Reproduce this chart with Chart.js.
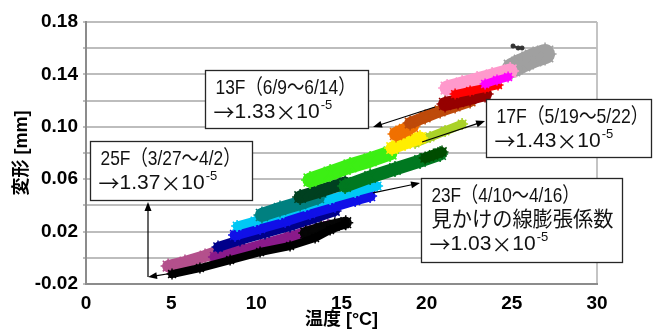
<!DOCTYPE html>
<html>
<head>
<meta charset="utf-8">
<script src="https://cdn.jsdelivr.net/npm/chart.js@4.4.1/dist/chart.umd.min.js"></script>
<style>
  body { margin: 0; background: #fff; }
  #wrap { width: 653px; height: 333px; }
</style>
</head>
<body>
<div id="wrap"><canvas id="deformChart" width="653" height="333"></canvas></div>
<script>
// [temperature °C, deformation mm] for each measured band
const blackTop      = [[25.07,0.1617],[25.37,0.1602],[25.60,0.1602]];
const blackBand     = [[5.05,-0.0124],[6.69,-0.0078],[8.46,-0.0017],[10.22,0.0044],[11.98,0.0090],[13.45,0.0151],[14.33,0.0212],[15.21,0.0258]];
const blackEnd      = [[12.90,0.0190],[13.80,0.0225],[14.60,0.0250],[15.25,0.0268]];
const mauveBand     = [[4.82,-0.0063],[5.81,-0.0032],[6.99,0.0014],[8.16,0.0067],[9.04,0.0090]];
const purpleBand    = [[7.57,0.0006],[9.04,0.0052],[10.51,0.0105],[11.98,0.0159],[13.15,0.0205],[14.21,0.0243]];
const navyBand      = [[7.75,0.0082],[9.04,0.0136],[10.51,0.0189],[11.98,0.0243],[13.45,0.0304],[14.62,0.0357]];
const blueBand      = [[8.75,0.0174],[10.22,0.0227],[11.69,0.0281],[13.15,0.0342],[14.62,0.0395],[15.80,0.0441],[16.68,0.0472]];
const cyanBand      = [[8.87,0.0243],[9.92,0.0281],[11.39,0.0334],[12.86,0.0395],[14.33,0.0449],[15.80,0.0502],[17.09,0.0548]];
const tealBand      = [[10.33,0.0327],[11.39,0.0373],[12.57,0.0418],[13.62,0.0464]];
const darkGreenBand = [[12.57,0.0464],[13.74,0.0510],[15.21,0.0571]];
const greenBand     = [[15.21,0.0548],[16.68,0.0617],[18.14,0.0678],[19.61,0.0739],[20.79,0.0792]];
const deepGreenBand = [[19.91,0.0762],[20.40,0.0785],[20.90,0.0808]];
const limeBand      = [[13.15,0.0594],[14.33,0.0647],[15.50,0.0701],[16.68,0.0747],[17.85,0.0800]];
const yellowBand    = [[17.97,0.0838],[18.73,0.0876],[19.61,0.0915]];
const olivineBand   = [[19.32,0.0876],[20.20,0.0922],[21.08,0.0968],[22.08,0.1021]];
const orangeBand    = [[18.20,0.0945],[18.73,0.0976],[19.14,0.1006]];
const brownBand     = [[19.03,0.1029],[19.91,0.1075],[20.79,0.1121],[21.67,0.1159],[22.55,0.1197]];
const darkRedBand   = [[21.08,0.1174],[21.84,0.1197],[22.55,0.1220],[23.43,0.1250]];
const redBand       = [[21.67,0.1250],[22.55,0.1273],[23.43,0.1296],[24.19,0.1319]];
const pinkBand      = [[21.20,0.1296],[22.08,0.1327],[22.96,0.1357],[23.84,0.1388],[24.90,0.1426]];
const magentaBand   = [[23.43,0.1327],[24.13,0.1357],[24.78,0.1380]];
const grayBand      = [[25.01,0.1449],[25.60,0.1487],[26.25,0.1525],[26.95,0.1556]];

const xTicks = [0, 5, 10, 15, 20, 25, 30];
const yLabelTicks = [-0.02, 0.02, 0.06, 0.10, 0.14, 0.18];

// first entry is drawn on top
const bandStyles = [
  { pts: blackTop,      color: '#333333', w: 2 },
  { pts: blackBand,     color: '#000000', w: 8 },
  { pts: blackEnd,      color: '#050505', w: 12 },
  { pts: magentaBand,   color: '#ff00ff', w: 8 },
  { pts: redBand,       color: '#ff0000', w: 8 },
  { pts: darkRedBand,   color: '#960000', w: 14 },
  { pts: pinkBand,      color: '#ff99cc', w: 15 },
  { pts: grayBand,      color: '#a0a0a0', w: 20 },
  { pts: brownBand,     color: '#be4a0a', w: 12 },
  { pts: orangeBand,    color: '#f07000', w: 14 },
  { pts: yellowBand,    color: '#ffee00', w: 13 },
  { pts: olivineBand,   color: '#aad228', w: 9 },
  { pts: limeBand,      color: '#3cef14', w: 15 },
  { pts: deepGreenBand, color: '#004d00', w: 10 },
  { pts: greenBand,     color: '#007820', w: 13 },
  { pts: darkGreenBand, color: '#004020', w: 13 },
  { pts: tealBand,      color: '#008080', w: 14 },
  { pts: cyanBand,      color: '#00c8f5', w: 9 },
  { pts: blueBand,      color: '#1010e8', w: 11 },
  { pts: navyBand,      color: '#00008b', w: 10 },
  { pts: purpleBand,    color: '#8a1a8a', w: 11 },
  { pts: mauveBand,     color: '#b4508c', w: 12 }
];

// text boxes (corners in axis units) and leader arrows
const noteBoxes = [
  { x0: 6.99,  y0: 0.1434, x1: 16.56, y1: 0.0991, lines: [['13F（6/9～6/14）', '', 140], ['→1.33×10', '-5']] },
  { x0: 23.49, y0: 0.1212, x1: 33.18, y1: 0.0769, lines: [['17F（5/19～5/22）', '', 152], ['→1.43×10', '-5']] },
  { x0: 0.23,  y0: 0.0892, x1: 9.75,  y1: 0.0441, lines: [['25F（3/27～4/2）', '', 140], ['→1.37×10', '-5']] },
  { x0: 19.67, y0: 0.0609, x1: 31.47, y1: -0.0032, lines: [['23F（4/10～4/16）', '', 148], ['見かけの線膨張係数', '', 182], ['→1.03×10', '-5']] }
];
const noteArrows = [
  [[20.49, 0.1151], [16.85, 0.0998]],
  [[19.73, 0.0884], [23.43, 0.1044]],
  [[5.11, -0.0116], [3.64, -0.0147]],
  [[3.64, -0.0147], [3.64, 0.0426]],
  [[16.85, 0.0495], [19.61, 0.0571]]
];

const baseFont = "'Liberation Sans', 'Noto Sans CJK JP', sans-serif";
const cjkFont = "'Noto Sans CJK JP', sans-serif";

// draws a line char by char so arrows and × come out full width
function drawMixed(ctx, text, x, y) {
  for (const ch of text) {
    ctx.font = '21px ' + (/[→×]/.test(ch) ? cjkFont : baseFont);
    ctx.fillText(ch, x, y);
    x += ctx.measureText(ch).width;
  }
  return x;
}

const notesPlugin = {
  id: 'notes',
  afterDatasetsDraw(chart) {
    const { ctx, scales: { x, y } } = chart;
    ctx.save();
    ctx.strokeStyle = '#000';
    ctx.fillStyle = '#000';
    ctx.lineWidth = 1.2;
    noteArrows.forEach(([a, b]) => {
      const ax = x.getPixelForValue(a[0]), ay = y.getPixelForValue(a[1]);
      const bx = x.getPixelForValue(b[0]), by = y.getPixelForValue(b[1]);
      const ang = Math.atan2(by - ay, bx - ax);
      const c = Math.cos(ang), s = Math.sin(ang);
      ctx.beginPath();
      ctx.moveTo(ax, ay);
      ctx.lineTo(bx - 6 * c, by - 6 * s);
      ctx.stroke();
      ctx.beginPath();
      ctx.moveTo(bx, by);
      ctx.lineTo(bx - 9 * c + 3.5 * s, by - 9 * s - 3.5 * c);
      ctx.lineTo(bx - 9 * c - 3.5 * s, by - 9 * s + 3.5 * c);
      ctx.closePath();
      ctx.fill();
    });
    noteBoxes.forEach(nb => {
      const l = Math.round(x.getPixelForValue(nb.x0)) + 0.5;
      const t = Math.round(y.getPixelForValue(nb.y0)) + 0.5;
      const r = Math.round(x.getPixelForValue(nb.x1)) + 0.5;
      const b = Math.round(y.getPixelForValue(nb.y1)) + 0.5;
      ctx.fillStyle = '#fff';
      ctx.fillRect(l, t, r - l, b - t);
      ctx.strokeStyle = '#262626';
      ctx.lineWidth = 1.3;
      ctx.strokeRect(l, t, r - l, b - t);
      ctx.fillStyle = '#111';
      ctx.textAlign = 'left';
      ctx.textBaseline = 'middle';
      nb.lines.forEach((ln, i) => {
        const ty = t + 18 + i * 24;
        if (ln[1]) {
          const end = drawMixed(ctx, ln[0], l + 8, ty);
          ctx.font = '13px ' + baseFont;
          ctx.fillText(ln[1], end + 1, ty - 7);
        } else {
          ctx.font = '21px ' + baseFont;
          ctx.fillText(ln[0], l + 10, ty, ln[2]);
        }
      });
    });
    ctx.restore();
  }
};

new Chart(document.getElementById('deformChart'), {
  type: 'scatter',
  data: {
    datasets: bandStyles.map(s => ({
      data: s.pts.map(p => ({ x: p[0], y: p[1] })),
      showLine: true,
      borderColor: s.color,
      backgroundColor: s.color,
      borderWidth: s.w,
      borderCapStyle: 'round',
      borderJoinStyle: 'round',
      pointStyle: 'star',
      pointRadius: s.w / 2 + 1.5,
      pointBorderWidth: 1.5,
      pointBorderColor: s.color
    }))
  },
  options: {
    responsive: false,
    animation: false,
    devicePixelRatio: 1,
    layout: { padding: { left: 0, right: 56, top: 22, bottom: 0 } },
    plugins: { legend: { display: false }, tooltip: { enabled: false } },
    scales: {
      x: {
        type: 'linear',
        min: 0, max: 30,
        afterBuildTicks: s => { s.ticks = xTicks.map(v => ({ value: v })); },
        ticks: { color: '#000', padding: 8, font: { family: baseFont, size: 19, weight: 'bold' } },
        grid: {
          drawTicks: false,
          lineWidth: 2,
          color: c => (c.tick && c.tick.value === 30 ? '#c4c4c4' : 'rgba(0,0,0,0)')
        },
        border: { color: '#8c8c8c', width: 2 },
        title: {
          display: true, text: '温度 [°C]', color: '#000',
          font: { family: baseFont, size: 18, weight: 'bold' },
          padding: { top: 0, bottom: 2 }
        },
        afterFit: s => { s.height = 49; }
      },
      y: {
        type: 'linear',
        min: -0.02, max: 0.18,
        ticks: {
          stepSize: 0.02, color: '#000', padding: 5,
          font: { family: baseFont, size: 19, weight: 'bold' },
          callback: v => {
            const hit = yLabelTicks.find(t => Math.abs(t - v) < 1e-6);
            return hit === undefined ? '' : hit.toFixed(2);
          }
        },
        grid: { color: '#bdbdbd', lineWidth: 2, tickLength: 3 },
        border: { color: '#8c8c8c', width: 2 },
        title: {
          display: true, text: '変形 [mm]', color: '#000',
          font: { family: baseFont, size: 18, weight: 'bold' },
          padding: { top: 11, bottom: 0 }
        },
        afterFit: s => { s.width = 86; }
      }
    }
  },
  plugins: [notesPlugin]
});
</script>
</body>
</html>
